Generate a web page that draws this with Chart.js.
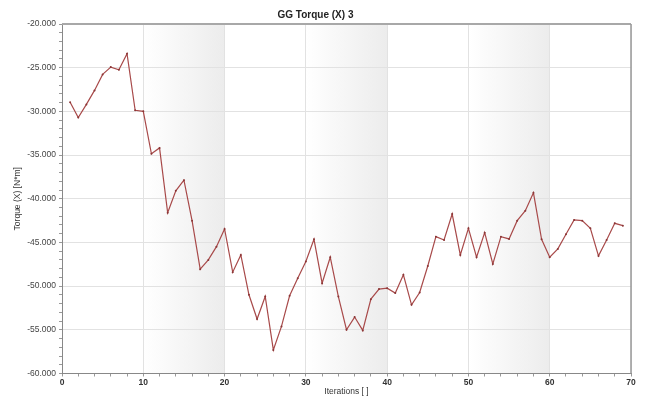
<!DOCTYPE html>
<html>
<head>
<meta charset="utf-8">
<script src="https://cdn.jsdelivr.net/npm/chart.js@4"></script>
<style>
  html, body { margin: 0; padding: 0; background: #ffffff; }
  #wrap { width: 646px; height: 399px; position: relative; }
</style>
</head>
<body>
<div id="wrap"><canvas id="c"></canvas></div>
<script>
// Iteration numbers and the torque value (N*m) recorded at each one
const iterations = [
  1, 2, 3, 4, 5, 6, 7, 8, 9, 10,
  11, 12, 13, 14, 15, 16, 17, 18, 19, 20,
  21, 22, 23, 24, 25, 26, 27, 28, 29, 30,
  31, 32, 33, 34, 35, 36, 37, 38, 39, 40,
  41, 42, 43, 44, 45, 46, 47, 48, 49, 50,
  51, 52, 53, 54, 55, 56, 57, 58, 59, 60,
  61, 62, 63, 64, 65, 66, 67, 68, 69
];
const torqueX = [
  -28960, -30710, -29200, -27600, -25770, -24930, -25230, -23400, -29880, -29990,
  -34850, -34180, -41600, -39090, -37870, -42510, -48060, -47000, -45480, -43460,
  -48400, -46430, -50990, -53770, -51190, -57300, -54610, -51110, -49090, -47190,
  -44640, -49660, -46690, -51190, -54990, -53540, -55070, -51490, -50340, -50230,
  -50800, -48710, -52140, -50730, -47700, -44340, -44720, -41750, -46430, -43380,
  -46690, -43880, -47460, -44340, -44600, -42510, -41370, -39320, -44640, -46690,
  -45740, -44070, -42430, -42510, -43380, -46540, -44720, -42810, -43080
];

// Labelled tick values on each axis
const xMajorTicks = [0, 10, 20, 30, 40, 50, 60, 70];
const yMajorTicks = [-60000, -55000, -50000, -45000, -40000, -35000, -30000, -25000, -20000];

// Alternate iteration ranges drawn with a shaded background
const shadedSpans = [[10, 20], [30, 40], [50, 60]];

const FONT = "'Liberation Sans', Arial, sans-serif";

const bandsPlugin = {
  id: 'bands',
  beforeDraw(chart) {
    const { ctx, chartArea, scales } = chart;
    ctx.save();
    for (const [a, b] of shadedSpans) {
      const x0 = scales.x.getPixelForValue(a);
      const x1 = scales.x.getPixelForValue(b);
      const g = ctx.createLinearGradient(x0, 0, x1, 0);
      g.addColorStop(0, '#ffffff');
      g.addColorStop(1, '#ececec');
      ctx.fillStyle = g;
      ctx.fillRect(x0, chartArea.top, x1 - x0, chartArea.bottom - chartArea.top);
    }
    ctx.restore();
  }
};

const framePlugin = {
  id: 'frame',
  afterDraw(chart) {
    const { ctx, chartArea } = chart;
    ctx.save();
    ctx.strokeStyle = '#a8a8a8';
    ctx.lineWidth = 2;
    ctx.beginPath();
    ctx.moveTo(chartArea.left, chartArea.top);
    ctx.lineTo(chartArea.right, chartArea.top);
    ctx.stroke();
    ctx.strokeStyle = '#999999';
    ctx.lineWidth = 1.5;
    ctx.beginPath();
    ctx.moveTo(chartArea.right, chartArea.top);
    ctx.lineTo(chartArea.right, chartArea.bottom);
    ctx.stroke();
    ctx.restore();
  }
};

new Chart(document.getElementById('c'), {
  type: 'line',
  data: {
    datasets: [{
      label: 'Torque (X)',
      data: iterations.map((it, i) => ({ x: it, y: torqueX[i] })),
      borderColor: '#a84a4a',
      borderWidth: 1.2,
      pointRadius: 1,
      pointBorderWidth: 0,
      pointBackgroundColor: '#8a3636',
      tension: 0,
      fill: false
    }]
  },
  options: {
    responsive: true,
    maintainAspectRatio: false,
    animation: false,
    devicePixelRatio: 1,
    layout: { padding: { left: 0, right: 15, top: 0, bottom: 0 } },
    plugins: {
      legend: { display: false },
      tooltip: { enabled: false },
      title: {
        display: true,
        text: 'GG Torque (X) 3',
        color: '#222222',
        font: { family: FONT, size: 10, weight: 'bold' },
        padding: { top: 9, bottom: 3 }
      }
    },
    scales: {
      x: {
        type: 'linear',
        min: 0,
        max: 70,
        afterFit(s) { s.height = 25.5; },
        border: { color: '#888888', width: 1 },
        grid: {
          color: c => (c.tick && xMajorTicks.includes(c.tick.value)) ? '#e2e2e2' : 'rgba(0,0,0,0)',
          tickColor: '#999999',
          tickLength: 3,
          lineWidth: 1
        },
        ticks: {
          stepSize: 2,
          autoSkip: false,
          maxRotation: 0,
          padding: 1,
          color: '#333333',
          font: { family: FONT, size: 8.5, weight: 'bold' },
          callback: v => xMajorTicks.includes(v) ? String(v) : ''
        },
        title: {
          display: true,
          text: 'Iterations [ ]',
          color: '#333333',
          font: { family: FONT, size: 8.5 },
          padding: { top: 0, bottom: 2 }
        }
      },
      y: {
        min: -60000,
        max: -20000,
        afterFit(s) { s.width = 62; },
        border: { color: '#888888', width: 1 },
        grid: {
          color: c => (c.tick && yMajorTicks.includes(c.tick.value)) ? '#e2e2e2' : 'rgba(0,0,0,0)',
          tickColor: '#999999',
          tickLength: 3,
          lineWidth: 1
        },
        ticks: {
          stepSize: 1000,
          maxTicksLimit: 100,
          autoSkip: false,
          padding: 3,
          color: '#444444',
          font: { family: FONT, size: 8.5 },
          callback: v => yMajorTicks.includes(v) ? (v / 1000).toFixed(3) : ''
        },
        title: {
          display: true,
          text: 'Torque (X) [N*m]',
          color: '#333333',
          font: { family: FONT, size: 8.5 },
          padding: { top: 13, bottom: 0 }
        }
      }
    }
  },
  plugins: [bandsPlugin, framePlugin]
});
</script>
</body>
</html>
